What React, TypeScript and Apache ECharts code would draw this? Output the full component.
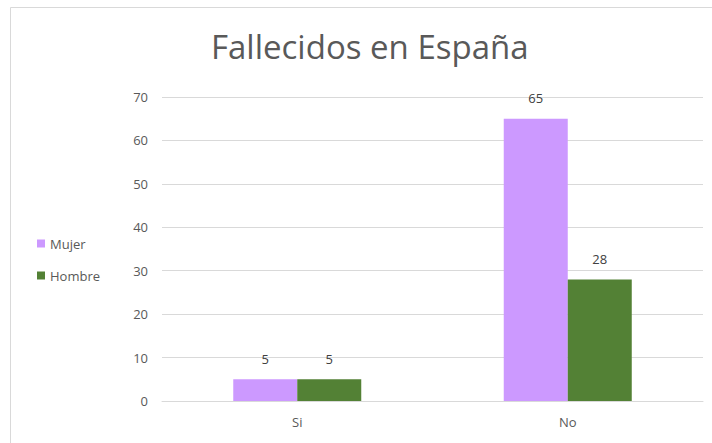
import React, { useEffect, useRef } from "react";
import * as echarts from "echarts";

const categories = ["Si", "No"];
const mujer = [5, 65];
const hombre = [5, 28];
const seriesNames = ["Mujer", "Hombre"];

export default function App() {
  const ref = useRef<HTMLDivElement>(null);
  useEffect(() => {
    if (!ref.current) return;
    const chart = echarts.init(ref.current, null, { renderer: "svg" });
    const font = "'Open Sans', 'Noto Sans', sans-serif";
    const label = {
      show: true,
      position: "top" as const,
      distance: 14,
      color: "#404040",
      fontSize: 13,
      fontFamily: font,
    };
    chart.setOption({
      animation: false,
      backgroundColor: "#ffffff",
      title: {
        text: "Fallecidos en España",
        left: 206,
        top: 25,
        textStyle: { color: "#595959", fontSize: 33, fontWeight: "normal", fontFamily: font },
      },
      legend: {
        orient: "vertical",
        left: 32,
        top: 232,
        itemWidth: 8,
        itemHeight: 8,
        itemGap: 19,
        icon: "rect",
        data: seriesNames,
        textStyle: { color: "#595959", fontSize: 13, fontFamily: font },
      },
      grid: { left: 162, right: 9, top: 97, bottom: 42 },
      xAxis: {
        type: "category",
        data: categories,
        axisLine: { lineStyle: { color: "#d9d9d9" } },
        axisTick: { show: false },
        axisLabel: { color: "#595959", fontSize: 13, margin: 14, fontFamily: font },
      },
      yAxis: {
        type: "value",
        min: 0,
        max: 70,
        interval: 10,
        axisLine: { show: false },
        axisTick: { show: false },
        axisLabel: { color: "#595959", fontSize: 13, margin: 14, fontFamily: font },
        splitLine: { lineStyle: { color: "#d9d9d9" } },
      },
      series: [
        { name: seriesNames[0], type: "bar", data: mujer, barWidth: 64, barGap: "0%", itemStyle: { color: "#cc99ff" }, label },
        { name: seriesNames[1], type: "bar", data: hombre, barWidth: 64, barGap: "0%", itemStyle: { color: "#538135" }, label },
      ],
      graphic: [
        { type: "line", shape: { x1: 10.5, y1: 7.5, x2: 712, y2: 7.5 }, style: { stroke: "#d9d9d9", lineWidth: 1 } },
        { type: "line", shape: { x1: 10.5, y1: 7.5, x2: 10.5, y2: 443 }, style: { stroke: "#d9d9d9", lineWidth: 1 } },
      ],
    });
    return () => chart.dispose();
  }, []);
  return (
    <div
      ref={ref}
      style={{ position: "fixed", left: 0, top: 0, width: 712, height: 443 }}
    />
  );
}
